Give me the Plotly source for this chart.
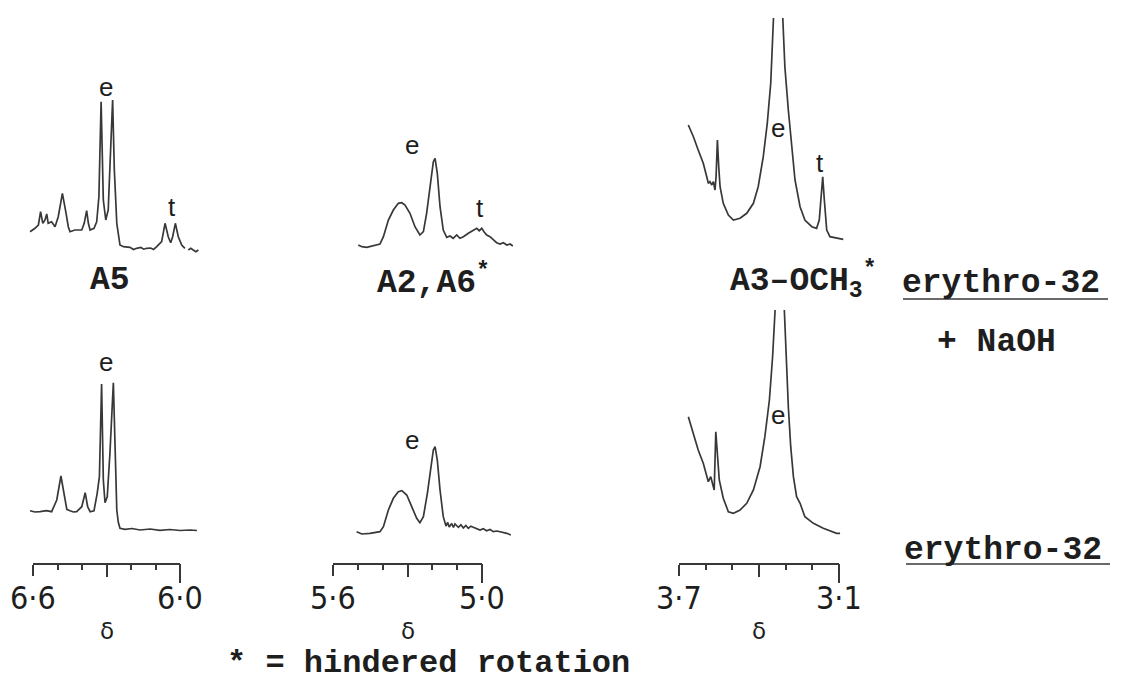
import plotly.graph_objects as go

W, H = 1122, 683

# ---------------------------------------------------------------
# 1H NMR traces: chemical shift delta (ppm) and intensity (a.u.)
# top row: erythro-32 + NaOH, bottom row: erythro-32
# ---------------------------------------------------------------

# A5 region, erythro-32 + NaOH
a5_naoh_ppm = [6.612, 6.592, 6.578, 6.569, 6.560, 6.551, 6.544, 6.538, 6.524, 6.510,
               6.497, 6.480, 6.465, 6.456, 6.449, 6.429, 6.401, 6.391, 6.381, 6.374,
               6.367, 6.351, 6.340, 6.331, 6.322, 6.313, 6.303, 6.293, 6.286, 6.275,
               6.268, 6.258, 6.245, 6.231, 6.204, 6.190, 6.177, 6.160, 6.148, 6.136,
               6.120, 6.108, 6.095, 6.075, 6.061, 6.048, 6.038, 6.030, 6.019, 6.007,
               5.993, 5.980, None, 5.966, 5.956, 5.946, 5.935, 5.925]
a5_naoh_int = [23.3, 26.7, 30.0, 43.3, 31.7, 35.0, 41.0, 31.7, 33.3, 28.3,
               38.3, 61.7, 41.7, 28.3, 23.3, 25.0, 25.0, 31.7, 44.3, 31.7,
               25.0, 26.7, 33.3, 58.3, 153.3, 55.0, 35.0, 45.0, 88.3, 155.0,
               85.0, 31.7, 10.0, 8.3, 7.7, 5.5, 6.7, 7.5, 5.8, 6.7,
               7.0, 5.5, 8.3, 13.3, 31.7, 18.3, 12.3, 18.3, 31.7, 18.3,
               10.0, 6.7, None, 5.0, 6.7, 5.0, 3.3, 5.0]

# A2,A6 region, erythro-32 + NaOH
a26_naoh_ppm = [5.498, 5.484, 5.464, 5.438, 5.411, 5.397, 5.377, 5.357, 5.337, 5.323,
                5.310, 5.290, 5.270, 5.250, 5.236, 5.223, 5.209, 5.196, 5.189, 5.180,
                5.169, 5.156, 5.142, 5.129, 5.116, 5.102, 5.089, 5.075, 5.055, 5.035,
                5.021, 5.011, 5.001, 4.992, 4.981, 4.968, 4.954, 4.941, 4.927, 4.914,
                4.900, 4.887, 4.876]
a26_naoh_int = [10.0, 8.3, 7.7, 9.0, 11.0, 18.3, 35.0, 45.0, 51.7, 52.3,
                50.0, 41.7, 28.3, 20.0, 23.3, 41.7, 71.7, 93.3, 96.7, 81.7,
                48.3, 25.0, 17.7, 19.0, 16.7, 20.0, 16.7, 18.3, 21.7, 25.0,
                26.7, 24.3, 26.7, 23.3, 20.0, 18.3, 15.0, 12.3, 11.0, 12.3,
                10.0, 11.0, 9.0]

# A3-OCH3 region, erythro-32 + NaOH (main peak runs off scale)
a3_naoh_ppm = [3.665, 3.646, 3.628, 3.609, 3.596, 3.590, 3.584, 3.577, 3.571, 3.565,
               3.561, 3.556, 3.551, 3.546, 3.534, 3.515, 3.496, 3.471, 3.446, 3.421,
               3.403, 3.384, 3.369, 3.356, 3.346, 3.329, 3.311, 3.303, 3.290, 3.277,
               3.265, 3.246, 3.228, 3.202, 3.184, 3.174, 3.165, 3.161, 3.155, 3.146,
               3.134, 3.109, 3.084]
a3_naoh_int = [130.0, 118.3, 105.0, 91.7, 78.3, 71.7, 73.3, 70.0, 73.3, 65.0,
               78.3, 115.0, 88.3, 68.3, 51.7, 40.0, 35.0, 36.7, 41.7, 51.7,
               68.3, 98.3, 131.7, 171.7, 235.0, 335.0, 238.3, 188.3, 145.0, 108.3,
               75.0, 48.3, 35.0, 28.3, 26.7, 35.0, 61.7, 78.3, 55.0, 25.0,
               18.3, 16.7, 15.7]

# A5 region, erythro-32
a5_ppm = [6.612, 6.592, 6.571, 6.545, 6.524, 6.503, 6.486, 6.472, 6.462, 6.449,
          6.435, 6.422, 6.401, 6.387, 6.377, 6.367, 6.351, 6.338, 6.329, 6.320,
          6.313, 6.306, 6.297, 6.286, 6.272, 6.265, 6.258, 6.252, 6.245, 6.224,
          6.196, 6.163, 6.122, 6.082, 6.041, 6.000, 5.959, 5.931]
a5_int = [52.3, 51.0, 51.3, 52.3, 51.3, 63.0, 87.0, 66.3, 53.7, 52.3,
          51.0, 51.3, 56.3, 70.3, 56.3, 51.3, 52.3, 69.7, 86.3, 179.0,
          83.0, 60.3, 66.3, 109.7, 180.3, 116.3, 53.0, 41.0, 34.7, 33.7,
          34.5, 33.0, 34.0, 32.7, 33.5, 32.5, 33.0, 32.5]

# A2,A6 region, erythro-32
a26_ppm = [5.505, 5.484, 5.451, 5.411, 5.397, 5.377, 5.357, 5.337, 5.323, 5.303,
           5.283, 5.263, 5.250, 5.236, 5.220, 5.207, 5.196, 5.189, 5.180, 5.169,
           5.156, 5.145, 5.138, 5.132, 5.122, 5.115, 5.109, 5.095, 5.085, 5.075,
           5.065, 5.055, 5.045, 5.035, 5.020, 5.008, 4.995, 4.981, 4.968, 4.954,
           4.940, 4.927, 4.900, 4.884]
a26_int = [31.3, 29.0, 29.7, 31.3, 36.3, 53.0, 64.7, 71.3, 72.3, 68.0,
           56.3, 44.7, 40.3, 46.3, 69.7, 96.3, 113.0, 116.3, 103.0, 73.0,
           46.3, 37.0, 40.5, 36.0, 39.5, 35.5, 39.0, 35.7, 38.3, 35.0,
           37.5, 34.7, 36.8, 35.7, 34.0, 33.0, 34.2, 32.3, 33.5, 31.3,
           32.0, 31.3, 29.7, 28.0]

# A3-OCH3 region, erythro-32 (main peak runs off scale)
a3_ppm = [3.665, 3.646, 3.628, 3.609, 3.596, 3.590, 3.581, 3.571, 3.568, 3.562,
          3.556, 3.549, 3.534, 3.515, 3.496, 3.471, 3.446, 3.421, 3.396, 3.378,
          3.361, 3.349, 3.340, 3.323, 3.305, 3.299, 3.290, 3.281, 3.271, 3.259,
          3.246, 3.228, 3.196, 3.159, 3.109, 3.096]
a3_int = [146.3, 129.7, 113.0, 99.7, 86.3, 81.3, 86.3, 76.3, 73.0, 131.3,
          106.3, 83.0, 64.7, 51.3, 49.7, 53.0, 59.7, 73.0, 96.3, 126.3,
          163.0, 206.3, 251.3, 343.0, 253.0, 206.3, 156.3, 116.3, 86.3, 66.3,
          59.7, 46.3, 39.7, 34.7, 29.7, 29.7]

# scale bars under each column: labelled ends, a mid tick, minor ticks every 0.1 ppm
bar_ends = [[6.6, 6.0], [5.6, 5.0], [3.7, 3.1]]
bar_labels = [["6·6", "6·0"], ["5·6", "5·0"], ["3·7", "3·1"]]
bar_mid = [6.3, 5.3, 3.4]
bar_minor = [[6.5, 6.4, 6.2, 6.1], [5.5, 5.4, 5.2, 5.1], [3.6, 3.5, 3.3, 3.2]]

# peak letters (e / t) placed at (ppm, intensity) in each panel
peak_marks = [
    (1, "e", 6.302, 168.3), (1, "t", 6.034, 48.3),
    (2, "e", 5.283, 110.0), (2, "t", 5.008, 46.7),
    (3, "e", 3.328, 126.7), (3, "t", 3.171, 92.0),
    (4, "e", 6.302, 201.3),
    (5, "e", 5.283, 123.0),
    (6, "e", 3.328, 148.0),
]

# ---------------------------------------------------------------
# page geometry (pixels on a 1122 x 683 page)
# ---------------------------------------------------------------
INK = "#383838"
TXT = "#1e1e1e"
MONO = "Liberation Mono, Courier New, monospace"
SANS = "Liberation Sans, Arial, sans-serif"
NUMS = ("DejaVu Sans Condensed, Noto Sans Condensed, Liberation Sans Narrow, "
        "Liberation Sans, Arial, sans-serif")


def fx(px):
    return px / W


def fy(py):
    return 1 - py / H


COLS = [
    dict(bar_px=(33, 180), dom_px=(20, 215)),
    dict(bar_px=(333, 482), dom_px=(345, 525)),
    dict(bar_px=(679, 839), dom_px=(680, 855)),
]
ROWS = [
    dict(dom_px=(18, 255)),    # top row: top / bottom edge in px
    dict(dom_px=(310, 563)),   # bottom row, lower edge = scale bar
]


def ppm_range(ci):
    c = COLS[ci]
    (p0, p1) = c["bar_px"]
    v0, v1 = bar_ends[ci]
    k = (v1 - v0) / (p1 - p0)
    d0, d1 = c["dom_px"]
    return [v0 + (d0 - p0) * k, v0 + (d1 - p0) * k]


fig = go.Figure()

spectra = [
    (a5_naoh_ppm, a5_naoh_int), (a26_naoh_ppm, a26_naoh_int), (a3_naoh_ppm, a3_naoh_int),
    (a5_ppm, a5_int), (a26_ppm, a26_int), (a3_ppm, a3_int),
]
for i, (xs, ys) in enumerate(spectra, start=1):
    fig.add_trace(go.Scatter(
        x=xs, y=ys, mode="lines", xaxis=f"x{i}", yaxis=f"y{i}",
        line=dict(color=INK, width=1.7), hoverinfo="skip", connectgaps=False,
    ))

layout = dict(
    width=W, height=H, margin=dict(l=0, r=0, t=0, b=0),
    paper_bgcolor="white", plot_bgcolor="rgba(0,0,0,0)", showlegend=False,
)

hidden = dict(visible=False, showgrid=False, zeroline=False, fixedrange=True)
for r, row in enumerate(ROWS):
    top, bot = row["dom_px"]
    for ci, col in enumerate(COLS):
        i = r * 3 + ci + 1
        d0, d1 = col["dom_px"]
        layout[f"xaxis{i}"] = dict(hidden, domain=[fx(d0), fx(d1)], range=ppm_range(ci),
                                   anchor=f"y{i}")
        layout[f"yaxis{i}"] = dict(hidden, domain=[fy(bot), fy(top)], range=[0, bot - top],
                                   anchor=f"x{i}")

# scale bars drawn as axes along the lower edge of the bottom spectra
bar_common = dict(showgrid=False, zeroline=False, fixedrange=True, showticklabels=False,
                  ticks="outside", tickwidth=1.6, tickcolor=INK, tickmode="array")
ann = []
for ci, col in enumerate(COLS):
    p0, p1 = col["bar_px"]
    rng = list(bar_ends[ci])
    dom = [fx(p0), fx(p1)]
    ya = f"y{4 + ci}"
    ax_main, ax_mid, ax_end = 7 + ci, 10 + ci, 13 + ci
    layout[f"xaxis{ax_main}"] = dict(
        bar_common, domain=dom, range=rng, anchor=ya,
        showline=True, linecolor=INK, linewidth=1.6,
        ticklen=11, tickvals=bar_ends[ci],
        minor=dict(tickmode="array", tickvals=bar_minor[ci], ticks="outside",
                   ticklen=5, tickwidth=1.6, tickcolor=INK),
    )
    layout[f"xaxis{ax_mid}"] = dict(
        bar_common, domain=dom, range=rng, anchor=ya, showline=False,
        ticklen=13, tickvals=[bar_mid[ci]],
    )
    layout[f"xaxis{ax_end}"] = dict(
        bar_common, domain=dom, range=rng, anchor=ya, showline=False,
        ticklen=19, tickvals=[bar_ends[ci][-1]],
    )
    for ax in (ax_main, ax_mid, ax_end):
        fig.add_trace(go.Scatter(x=[None], y=[None], mode="lines", xaxis=f"x{ax}",
                                 yaxis=ya, hoverinfo="skip", showlegend=False))
    # end labels of the bar and the delta symbol beneath it
    for v, lab in zip(bar_ends[ci], bar_labels[ci]):
        ann.append(dict(x=v, y=fy(598), xref=f"x{ax_main}", yref="paper", text=lab,
                        showarrow=False, xanchor="center", yanchor="middle",
                        font=dict(family=NUMS, size=32, color=TXT)))
    ann.append(dict(x=bar_mid[ci], y=fy(631), xref=f"x{ax_main}", yref="paper", text="δ",
                    showarrow=False, xanchor="center", yanchor="middle",
                    font=dict(family="DejaVu Sans", size=23, color=TXT)))

fig.update_layout(**layout)

for panel, letter, px_, iy in peak_marks:
    ann.append(dict(x=px_, y=iy, xref=f"x{panel}", yref=f"y{panel}", text=letter,
                    showarrow=False, font=dict(family=SANS, size=26, color=TXT),
                    xanchor="center", yanchor="middle"))

mono_b = dict(family=MONO, size=33, color=TXT, weight="bold")
labels = [
    dict(x=fx(110), y=fy(281), text="A5", font=mono_b, xanchor="center"),
    dict(x=fx(433), y=fy(281), text="A2,A6<sup>*</sup>", font=mono_b, xanchor="center"),
    dict(x=fx(728), y=fy(281), text="A3–OCH<sub>3</sub><sup>*</sup>", font=mono_b,
         xanchor="left"),
    dict(x=fx(1001), y=fy(283), text="erythro-32", font=mono_b, xanchor="center"),
    dict(x=fx(996), y=fy(342), text="+ NaOH", font=mono_b, xanchor="center"),
    dict(x=fx(1003), y=fy(550), text="erythro-32", font=mono_b, xanchor="center"),
    dict(x=fx(428), y=fy(663.5), text="* = hindered rotation", font=dict(mono_b, size=32),
         xanchor="center"),
]
for a in labels:
    a.update(xref="paper", yref="paper", showarrow=False, yanchor="middle")
ann += labels

fig.update_layout(annotations=ann)

# underlines of the sample labels
for (x0, x1, yy) in [(903, 1108, 299), (906, 1110, 564)]:
    fig.add_shape(type="line", xref="paper", yref="paper",
                  x0=fx(x0), x1=fx(x1), y0=fy(yy), y1=fy(yy),
                  line=dict(color=INK, width=1.6))

fig.write_html("out.html")
